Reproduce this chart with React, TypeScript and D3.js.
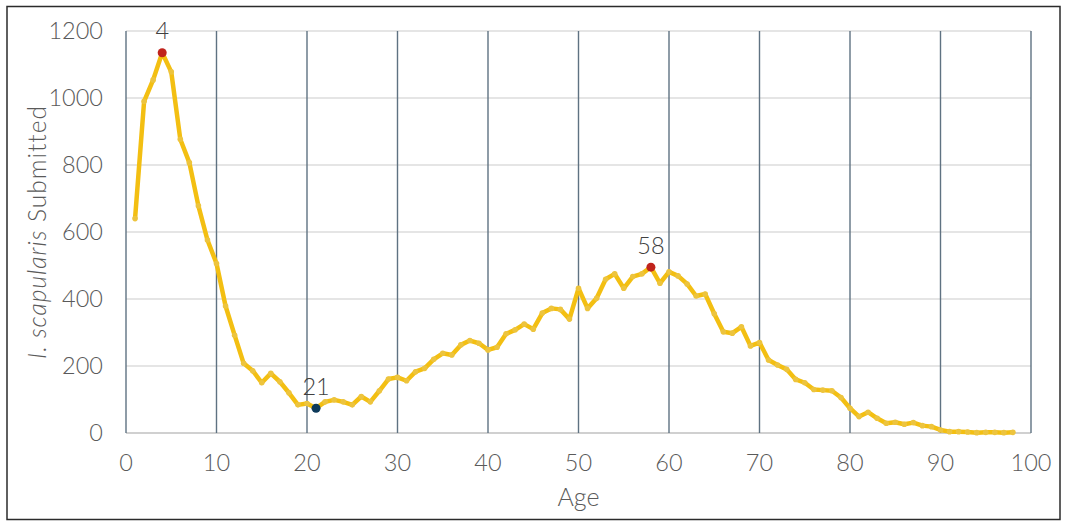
import React from "react";
import * as d3 from "d3";

const ages: number[] = Array.from({ length: 98 }, (_, i) => i + 1);
const counts: number[] = [
  640, 990, 1054, 1135, 1078, 877, 807, 678, 576, 506,
  379, 292, 208, 186, 150, 178, 153, 120, 84, 88,
  74, 93, 99, 93, 84, 109, 93, 126, 161, 166,
  156, 183, 193, 220, 238, 233, 263, 276, 268, 248,
  256, 296, 308, 325, 310, 358, 372, 369, 340, 432,
  372, 402, 459, 475, 432, 467, 475, 495, 447, 481,
  469, 445, 409, 415, 356, 302, 298, 317, 260, 270,
  218, 203, 190, 160, 150, 130, 128, 126, 106, 74,
  49, 62, 44, 29, 32, 26, 31, 22, 19, 9,
  4, 4, 3, 1, 2, 2, 1, 2,
];
const highlightAges: number[] = [4, 21, 58];
const highlightColors: string[] = ["#c0231c", "#0e3a5a", "#c0231c"];
const xTicks: number[] = [0, 10, 20, 30, 40, 50, 60, 70, 80, 90, 100];
const yTicks: number[] = [0, 200, 400, 600, 800, 1000, 1200];

const W = 1067;
const H = 525;
const left = 126;
const right = 1031;
const top = 31;
const bottom = 433;
const FONT = "Lato, 'Open Sans', sans-serif";
const TEXT = "#5a5a5a";

export default function App() {
  const x = d3.scaleLinear().domain([0, 100]).range([left, right]);
  const y = d3.scaleLinear().domain([0, 1200]).range([bottom, top]);
  const pts = ages.map((a, i) => [a, counts[i]] as [number, number]);
  const line = d3
    .line<[number, number]>()
    .x((d) => x(d[0]))
    .y((d) => y(d[1]));

  return (
    <svg
      width={W}
      height={H}
      style={{ position: "absolute", left: 0, top: 0, background: "#fff" }}
      fontFamily={FONT}
      fontWeight={300}
    >
      <rect x={0} y={0} width={W} height={H} fill="#fff" />
      <rect x={7} y={6.5} width={1053} height={513} fill="none" stroke="#2b2b2b" strokeWidth={1.5} />
      {yTicks.map((t) => (
        <line key={"h" + t} x1={left} x2={right} y1={y(t)} y2={y(t)} stroke={t === 0 ? "#d0d0d0" : "#dcdcdc"} strokeWidth={t === 0 ? 2 : 1.3} />
      ))}
      {xTicks.map((t) => (
        <line key={"v" + t} x1={x(t)} x2={x(t)} y1={top} y2={bottom} stroke="#5f7282" strokeWidth={1.4} />
      ))}
      {yTicks.map((t) => (
        <text key={"yl" + t} x={left - 23} y={y(t)} dy="0.36em" textAnchor="end" fontSize={23.5} fill={TEXT}>
          {t}
        </text>
      ))}
      {xTicks.map((t) => (
        <text key={"xl" + t} x={x(t)} y={bottom + 30} dy="0.36em" textAnchor="middle" fontSize={23.5} fill={TEXT}>
          {t}
        </text>
      ))}
      <text x={(left + right) / 2} y={497} dy="0.36em" textAnchor="middle" fontSize={25} fill={TEXT}>
        Age
      </text>
      <text
        transform={`translate(37,${(top + bottom) / 2}) rotate(-90)`}
        textAnchor="middle"
        dy="0.36em"
        fontSize={24.5}
        letterSpacing={1}
        fill={TEXT}
      >
        <tspan fontStyle="italic">I. scapularis</tspan>
        <tspan> Submitted</tspan>
      </text>
      <path d={line(pts) || ""} fill="none" stroke="#f3bf12" strokeWidth={4.5} strokeLinejoin="round" />
      {pts.map((p) => (
        <circle key={"m" + p[0]} cx={x(p[0])} cy={y(p[1])} r={2.8} fill="#edc43e" />
      ))}
      {highlightAges.map((a, i) => {
        const v = counts[ages.indexOf(a)];
        return (
          <g key={"hl" + a}>
            <circle cx={x(a)} cy={y(v)} r={4.5} fill={highlightColors[i]} />
            <text x={x(a)} y={y(v) - 22} dy="0.36em" textAnchor="middle" fontSize={23.5} fill="#404040">
              {a}
            </text>
          </g>
        );
      })}
    </svg>
  );
}
